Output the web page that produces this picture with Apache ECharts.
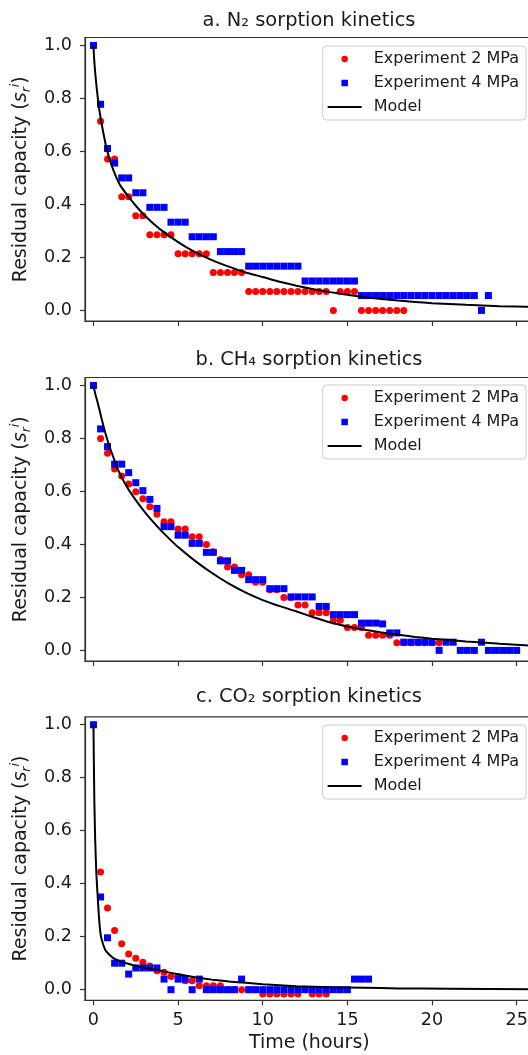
<!DOCTYPE html>
<html><head><meta charset="utf-8">
<script src="https://cdn.jsdelivr.net/npm/echarts@6/dist/echarts.min.js"></script>
<style>html,body{margin:0;padding:0;overflow:hidden;background:#fff}#c{width:560px;height:1055px}</style>
</head><body><div id="c"></div>
<script>
// ---- data ----
const timeHours = [0, 0.42, 0.83, 1.25, 1.67, 2.08, 2.5, 2.92, 3.33, 3.75, 4.17, 4.58, 5.0, 5.42, 5.83, 6.25, 6.67, 7.08, 7.5, 7.92,
  8.33, 8.75, 9.17, 9.58, 10.0, 10.42, 10.83, 11.25, 11.67, 12.08, 12.5, 12.92, 13.33, 13.75, 14.17, 14.58, 15.0, 15.42, 15.83, 16.25,
  16.67, 17.08, 17.5, 17.92, 18.33, 18.75, 19.17, 19.58, 20.0, 20.42, 20.83, 21.25, 21.67, 22.08, 22.5, 22.92, 23.33, 23.75, 24.17, 24.58, 25.0];

const n2Exp2MPa = [1.0, 0.714, 0.571, 0.571, 0.429, 0.429, 0.357, 0.357, 0.286, 0.286, 0.286, 0.286, 0.214, 0.214, 0.214, 0.214, 0.214,
  0.143, 0.143, 0.143, 0.143, 0.143, 0.071, 0.071, 0.071, 0.071, 0.071, 0.071, 0.071, 0.071, 0.071, 0.071, 0.071, 0.071, 0,
  0.071, 0.071, 0.071, 0, 0, 0, 0, 0, 0, 0];
const n2Exp4MPa = [1.0, 0.778, 0.611, 0.556, 0.5, 0.5, 0.444, 0.444, 0.389, 0.389, 0.389, 0.333, 0.333, 0.333, 0.278, 0.278, 0.278, 0.278,
  0.222, 0.222, 0.222, 0.222, 0.167, 0.167, 0.167, 0.167, 0.167, 0.167, 0.167, 0.167, 0.111, 0.111, 0.111, 0.111, 0.111, 0.111, 0.111, 0.111,
  0.056, 0.056, 0.056, 0.056, 0.056, 0.056, 0.056, 0.056, 0.056, 0.056, 0.056, 0.056, 0.056, 0.056, 0.056, 0.056, 0.056, 0, 0.056];
const n2ModelTime = [0, 0.03, 0.08, 0.15, 0.25, 0.4, 0.6, 0.8, 1.0, 1.3, 1.6, 2.0, 2.5, 3.0, 3.5, 4.0, 5, 6, 7, 8, 9, 10, 11, 12, 13, 14, 15,
  16, 17, 18, 19, 20, 22, 24, 26];
const n2Model = [1.0, 0.96, 0.915, 0.865, 0.805, 0.735, 0.665, 0.605, 0.56, 0.51, 0.47, 0.435, 0.395, 0.36, 0.33, 0.303, 0.258, 0.22, 0.19,
  0.165, 0.143, 0.126, 0.108, 0.093, 0.08, 0.069, 0.059, 0.05, 0.043, 0.037, 0.032, 0.027, 0.021, 0.016, 0.013];

const ch4Exp2MPa = [1.0, 0.80, 0.744, 0.685, 0.658, 0.628, 0.599, 0.572, 0.542, 0.514, 0.486, 0.486, 0.458, 0.458, 0.429, 0.429, 0.40,
  0.372, 0.343, 0.315, 0.315, 0.286, 0.286, 0.257, 0.257, 0.229, 0.229, 0.20, 0.20, 0.171, 0.171, 0.142, 0.142, 0.142, 0.114, 0.114,
  0.086, 0.086, 0.086, 0.057, 0.057, 0.057, 0.057, 0.029, 0.029, 0.029, 0.029, 0.029, 0.029, 0.029];
const ch4Exp4MPa = [1.0, 0.836, 0.769, 0.703, 0.703, 0.671, 0.633, 0.603, 0.570, 0.536, 0.467, 0.467, 0.435, 0.435, 0.404, 0.404, 0.370, 0.370,
  0.338, 0.338, 0.302, 0.302, 0.267, 0.267, 0.267, 0.233, 0.233, 0.233, 0.202, 0.202, 0.202, 0.202, 0.166, 0.166, 0.135, 0.135, 0.135, 0.135,
  0.103, 0.103, 0.103, 0.1, 0.066, 0.066, 0.031, 0.031, 0.031, 0.031, 0.031, 0, 0.031, 0.031, 0, 0, 0, 0.031, 0, 0, 0, 0, 0];
const ch4ModelTime = [0, 0.1, 0.25, 0.5, 0.75, 1.0, 1.5, 2.0, 2.5, 3.0, 3.5, 4.0, 4.5, 5, 6, 7, 8, 9, 10, 11, 12, 13, 14, 15, 16, 17, 18,
  19, 20, 22, 24, 26];
const ch4Model = [1.0, 0.97, 0.935, 0.87, 0.81, 0.76, 0.675, 0.615, 0.567, 0.525, 0.487, 0.452, 0.42, 0.39, 0.338, 0.292, 0.252, 0.218,
  0.19, 0.167, 0.147, 0.125, 0.105, 0.09, 0.078, 0.068, 0.059, 0.051, 0.044, 0.034, 0.025, 0.018];

const co2Exp2MPa = [1.0, 0.444, 0.308, 0.223, 0.173, 0.135, 0.119, 0.104, 0.089, 0.072, 0.066, 0.05, 0.05, 0.034, 0.034, 0.015, 0.015,
  0.015, 0.015, 0, 0, 0, 0, 0, -0.016, -0.016, -0.016, -0.016, -0.016, -0.016, 0, -0.016, -0.016, -0.016];
const co2Exp4MPa = [1.0, 0.35, 0.196, 0.10, 0.10, 0.059, 0.082, 0.082, 0.082, 0.082, 0.04, 0, 0.04, 0.04, 0, 0.04, 0, 0, 0, 0, 0, 0.04,
  0, 0, 0, 0, 0, 0, 0, 0, 0, 0, 0, 0, 0, 0, 0, 0.04, 0.04, 0.04];
const co2ModelTime = [0, 0.02, 0.05, 0.1, 0.17, 0.25, 0.33, 0.42, 0.55, 0.7, 0.9, 1.2, 1.6, 2.0, 2.5, 3, 3.5, 4, 5, 6, 7, 8, 9,
  10, 11, 12, 14, 16, 18, 21, 26];
const co2Model = [1.0, 0.88, 0.72, 0.57, 0.44, 0.35, 0.27, 0.21, 0.175, 0.15, 0.135, 0.118, 0.107, 0.099, 0.09, 0.083, 0.077,
  0.071, 0.058, 0.047, 0.038, 0.031, 0.026, 0.021, 0.017, 0.013, 0.009, 0.007, 0.005, 0.004, 0.002];

const panelTitles = ['a. N\u2082 sorption kinetics', 'b. CH\u2084 sorption kinetics', 'c. CO\u2082 sorption kinetics'];
const xTickValues = [0, 5, 10, 15, 20, 25];
const yTickValues = [0, 0.2, 0.4, 0.6, 0.8, 1.0];
const seriesNames = ['Experiment 2 MPa', 'Experiment 4 MPa', 'Model'];

// ---- layout ----
const FONT = 'DejaVu Sans';
const TXT = '#1a1a1a';
const AX = '#333333';
const panels = [
  {red: n2Exp2MPa, blue: n2Exp4MPa, mt: n2ModelTime, mv: n2Model, top: 37.5, titleTop: 11, legendTop: 46},
  {red: ch4Exp2MPa, blue: ch4Exp4MPa, mt: ch4ModelTime, mv: ch4Model, top: 377.5, titleTop: 350, legendTop: 385},
  {red: co2Exp2MPa, blue: co2Exp4MPa, mt: co2ModelTime, mv: co2Model, top: 716.8, titleTop: 687, legendTop: 725}
];

const option = {animation: false, backgroundColor: '#ffffff', title: [], legend: [], grid: [], xAxis: [], yAxis: [], series: []};
panels.forEach((p, k) => {
  option.title.push({text: panelTitles[k], left: 309, top: p.titleTop, textAlign: 'center', padding: 0,
    textStyle: {fontFamily: FONT, fontSize: 19.4, fontWeight: 'normal', color: TXT}});
  option.grid.push({left: 85, top: p.top, width: 448.6, height: 283.5, show: true, borderColor: AX, borderWidth: 1.2,
    backgroundColor: 'transparent'});
  option.xAxis.push({gridIndex: k, type: 'value', min: -0.5, max: 26,
    axisLine: {show: true, onZero: false, lineStyle: {color: AX, width: 1.2}},
    axisTick: {show: true, inside: false, length: 5, customValues: xTickValues, lineStyle: {color: AX, width: 1.2}},
    axisLabel: {show: k === 2, customValues: xTickValues, margin: 11, fontFamily: FONT, fontSize: 17.6, color: TXT},
    splitLine: {show: false},
    name: k === 2 ? 'Time (hours)' : '', nameLocation: 'middle', nameGap: 33,
    nameTextStyle: {fontFamily: FONT, fontSize: 19, color: TXT}});
  option.yAxis.push({gridIndex: k, type: 'value', min: -0.04, max: 1.03,
    axisLine: {show: true, onZero: false, lineStyle: {color: AX, width: 1.2}},
    axisTick: {show: true, inside: false, length: 5, customValues: yTickValues, lineStyle: {color: AX, width: 1.2}},
    axisLabel: {customValues: yTickValues, formatter: v => v.toFixed(1), margin: 13, fontFamily: FONT, fontSize: 17.6, color: TXT},
    splitLine: {show: false},
    name: 'Residual capacity ({it|s}{sub|r}{sup|i})', nameLocation: 'middle', nameGap: 50,
    nameTextStyle: {fontFamily: FONT, fontSize: 19, color: TXT, lineHeight: 24,
      rich: {
        it: {fontFamily: FONT, fontSize: 19, fontStyle: 'italic', color: TXT, lineHeight: 24},
        sub: {fontFamily: FONT, fontSize: 12.5, fontStyle: 'italic', color: TXT, verticalAlign: 'bottom', lineHeight: 24},
        sup: {fontFamily: FONT, fontSize: 12.5, fontStyle: 'italic', color: TXT, verticalAlign: 'top', lineHeight: 24}
      }}});
  option.legend.push({orient: 'vertical', top: p.legendTop, right: 34, align: 'left',
    itemWidth: 34, itemHeight: 6.5, itemGap: 8, padding: [5, 7, 5, 5], selectedMode: false,
    backgroundColor: 'rgba(255,255,255,0.8)', borderColor: '#cccccc', borderWidth: 1, borderRadius: 4,
    textStyle: {fontFamily: FONT, fontSize: 16, color: TXT, padding: [0, 0, 0, 7]},
    data: [
      {name: seriesNames[0], icon: 'circle', symbolKeepAspect: true, itemStyle: {color: '#ff0000', opacity: 1}},
      {name: seriesNames[1], icon: 'path://M0,0h10v10h-10z', symbolKeepAspect: true, itemStyle: {color: '#0000ff', opacity: 1}},
      {name: seriesNames[2], icon: 'path://M0,0h34v2h-34z', symbolKeepAspect: true, itemStyle: {color: '#000000'}}]});
  option.series.push({type: 'scatter', name: seriesNames[0], xAxisIndex: k, yAxisIndex: k,
    data: p.red.map((v, i) => [timeHours[i], v]), symbol: 'circle', symbolSize: 7,
    itemStyle: {color: '#ff0000', opacity: 1}, z: 2});
  option.series.push({type: 'scatter', name: seriesNames[1], xAxisIndex: k, yAxisIndex: k,
    data: p.blue.map((v, i) => [timeHours[i], v]), symbol: 'rect', symbolSize: 7,
    itemStyle: {color: '#0000ff', opacity: 1}, z: 2});
  option.series.push({type: 'line', name: seriesNames[2], xAxisIndex: k, yAxisIndex: k,
    data: p.mt.map((t, i) => [t, p.mv[i]]), symbol: 'none', showSymbol: false, smooth: 0.15,
    lineStyle: {color: '#000000', width: 2}, itemStyle: {color: '#000000'}, z: 3});
});

const chart = echarts.init(document.getElementById('c'), null, {renderer: 'canvas'});
chart.setOption(option);
</script>
</body></html>
